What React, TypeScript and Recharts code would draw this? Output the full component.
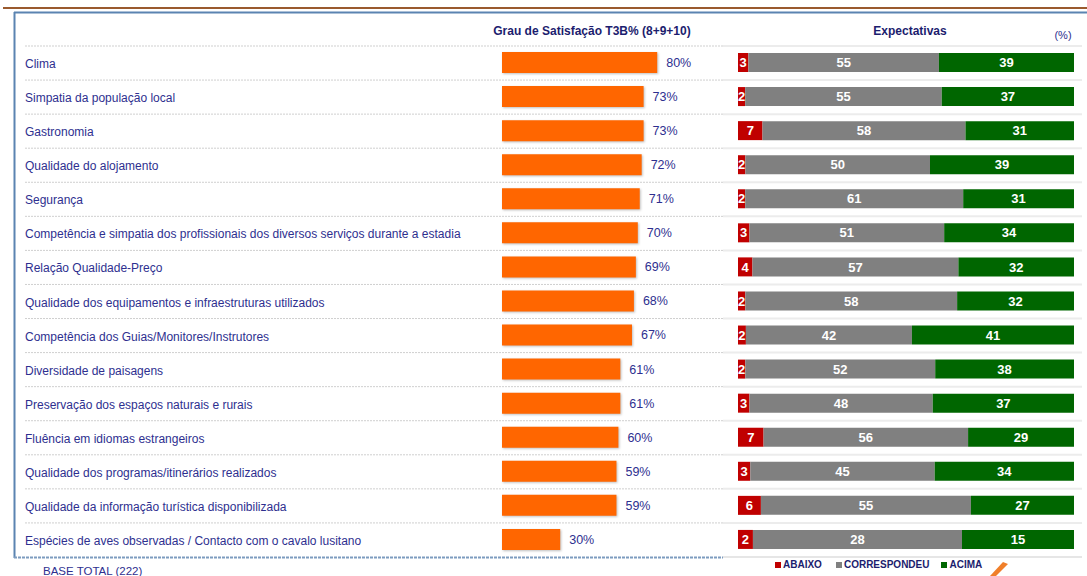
import React from 'react';
import { BarChart, Bar, XAxis, YAxis, LabelList } from 'recharts';

const categories = [
  'Clima',
  'Simpatia da população local',
  'Gastronomia',
  'Qualidade do alojamento',
  'Segurança',
  'Competência e simpatia dos profissionais dos diversos serviços durante a estadia',
  'Relação Qualidade-Preço',
  'Qualidade dos equipamentos e infraestruturas utilizados',
  'Competência dos Guias/Monitores/Instrutores',
  'Diversidade de paisagens',
  'Preservação dos espaços naturais e rurais',
  'Fluência em idiomas estrangeiros',
  'Qualidade dos programas/itinerários realizados',
  'Qualidade da informação turística disponibilizada',
  'Espécies de aves observadas / Contacto com o cavalo lusitano',
];

const satisfacao = [80, 73, 73, 72, 71, 70, 69, 68, 67, 61, 61, 60, 59, 59, 30];
const abaixo = [3, 2, 7, 2, 2, 3, 4, 2, 2, 2, 3, 7, 3, 6, 2];
const correspondeu = [55, 55, 58, 50, 61, 51, 57, 58, 42, 52, 48, 56, 45, 55, 28];
const acima = [39, 37, 31, 39, 31, 34, 32, 32, 41, 38, 37, 29, 34, 27, 15];

const seriesNames = ['ABAIXO', 'CORRESPONDEU', 'ACIMA'];
const leftTitle = 'Grau de Satisfação T3B% (8+9+10)';
const rightTitle = 'Expectativas';
const unitLabel = '(%)';
const baseLabel = 'BASE TOTAL (222)';

const data = categories.map((name, i) => ({
  name,
  satisfacao: satisfacao[i],
  abaixo: abaixo[i],
  correspondeu: correspondeu[i],
  acima: acima[i],
}));

const W = 1087;
const H = 576;
const TOP = 45;
const BOTTOM = 20;
const HALF = (H - TOP - BOTTOM) / categories.length / 2;
const FONT = '"Liberation Sans", Arial, sans-serif';
const NAVY = '#2e2f8f';
const TITLE = '#1c1d6e';
const ORANGE = '#ff6600';
const RED = '#c00000';
const GRAY = '#808080';
const GREEN = '#006600';

const CategoryTick = (props: any) => {
  const { y, payload } = props;
  const top = y - HALF + 1;
  return (
    <g>
      <line x1={25} x2={723} y1={top} y2={top} stroke="#cfcfcf" strokeDasharray="2 1" strokeWidth={1} />
      <line x1={723} x2={1082} y1={top} y2={top} stroke="#ececec" strokeWidth={2} />
      <text x={25} y={y + 2} dominantBaseline="central" textAnchor="start" fill={NAVY} fontSize={12} fontFamily={FONT}>
        {payload.value}
      </text>
    </g>
  );
};

export default function App() {
  return (
    <div style={{ position: 'absolute', left: 0, top: 0, width: W, height: H, background: '#fff', fontFamily: FONT }}>
      <svg width={W} height={H} style={{ position: 'absolute', left: 0, top: 0 }}>
        <line x1={3} x2={W} y1={8} y2={8} stroke="#9a5a2e" strokeWidth={2} />
        <line x1={14} x2={W} y1={12.5} y2={12.5} stroke="#5b84b1" strokeWidth={2} />
        <line x1={14.5} x2={14.5} y1={12} y2={558} stroke="#5b84b1" strokeWidth={2} />
        <line x1={14} x2={723} y1={557.5} y2={557.5} stroke="#7d9cbf" strokeWidth={2} strokeDasharray="3 1" />
        <line x1={723} x2={1082} y1={557} y2={557} stroke="#e6e6e6" strokeWidth={2} />
        <text x={592} y={31} textAnchor="middle" dominantBaseline="central" fill={TITLE} fontSize={12} fontWeight="bold" fontFamily={FONT}>
          {leftTitle}
        </text>
        <text x={910} y={31} textAnchor="middle" dominantBaseline="central" fill={TITLE} fontSize={12} fontWeight="bold" fontFamily={FONT}>
          {rightTitle}
        </text>
        <text x={1063} y={35} textAnchor="middle" dominantBaseline="central" fill={NAVY} fontSize={11} fontFamily={FONT}>
          {unitLabel}
        </text>
        <text x={43} y={571} dominantBaseline="central" fill={NAVY} fontSize={11.5} fontFamily={FONT}>
          {baseLabel}
        </text>
        <polygon points="1003,562 1008,564 996,576 990,576" fill="#f07f2a" />
      </svg>

      <div style={{ position: 'absolute', left: 0, top: 0 }}>
        <BarChart
          width={W}
          height={H}
          data={data}
          layout="vertical"
          margin={{ top: TOP, bottom: BOTTOM, left: 0, right: W - 696 }}
        >
          <XAxis type="number" domain={[0, 100]} hide />
          <YAxis
            type="category"
            dataKey="name"
            width={502}
            interval={0}
            tickLine={false}
            axisLine={false}
            tick={<CategoryTick />}
          />
          <Bar
            dataKey="satisfacao"
            fill={ORANGE}
            barSize={21}
            isAnimationActive={false}
            style={{ filter: 'drop-shadow(1px 1px 1px rgba(0,0,0,0.25))' }}
          >
            <LabelList
              dataKey="satisfacao"
              position="right"
              offset={9}
              formatter={(v: any) => `${v}%`}
              fill={NAVY}
              fontSize={12.5}
              fontFamily={FONT}
            />
          </Bar>
        </BarChart>
      </div>

      <div style={{ position: 'absolute', left: 0, top: 0 }}>
        <BarChart
          width={W}
          height={H}
          data={data}
          layout="vertical"
          stackOffset="expand"
          margin={{ top: TOP, bottom: BOTTOM, left: 738, right: W - 1074 }}
        >
          <XAxis type="number" domain={[0, 1]} hide />
          <YAxis type="category" dataKey="name" hide width={0} />
          <Bar dataKey="abaixo" name={seriesNames[0]} stackId="e" fill={RED} barSize={19} isAnimationActive={false}>
            <LabelList dataKey="abaixo" position="center" fill="#fff" fontSize={13} fontWeight="bold" fontFamily={FONT} />
          </Bar>
          <Bar dataKey="correspondeu" name={seriesNames[1]} stackId="e" fill={GRAY} barSize={19} isAnimationActive={false}>
            <LabelList dataKey="correspondeu" position="center" fill="#fff" fontSize={13} fontWeight="bold" fontFamily={FONT} />
          </Bar>
          <Bar dataKey="acima" name={seriesNames[2]} stackId="e" fill={GREEN} barSize={19} isAnimationActive={false}>
            <LabelList dataKey="acima" position="center" fill="#fff" fontSize={13} fontWeight="bold" fontFamily={FONT} />
          </Bar>
        </BarChart>
      </div>

      <div
        style={{
          position: 'absolute',
          left: 775,
          top: 559,
          display: 'flex',
          alignItems: 'center',
          fontSize: 10,
          fontWeight: 'bold',
          color: TITLE,
          fontFamily: FONT,
          whiteSpace: 'nowrap',
        }}
      >
        {seriesNames.map((n, i) => (
          <span key={n} style={{ display: 'flex', alignItems: 'center', marginRight: i === 0 ? 14 : 12 }}>
            <span style={{ width: 6, height: 6, background: [RED, GRAY, GREEN][i], marginRight: 2 }} />
            {n}
          </span>
        ))}
      </div>
    </div>
  );
}
